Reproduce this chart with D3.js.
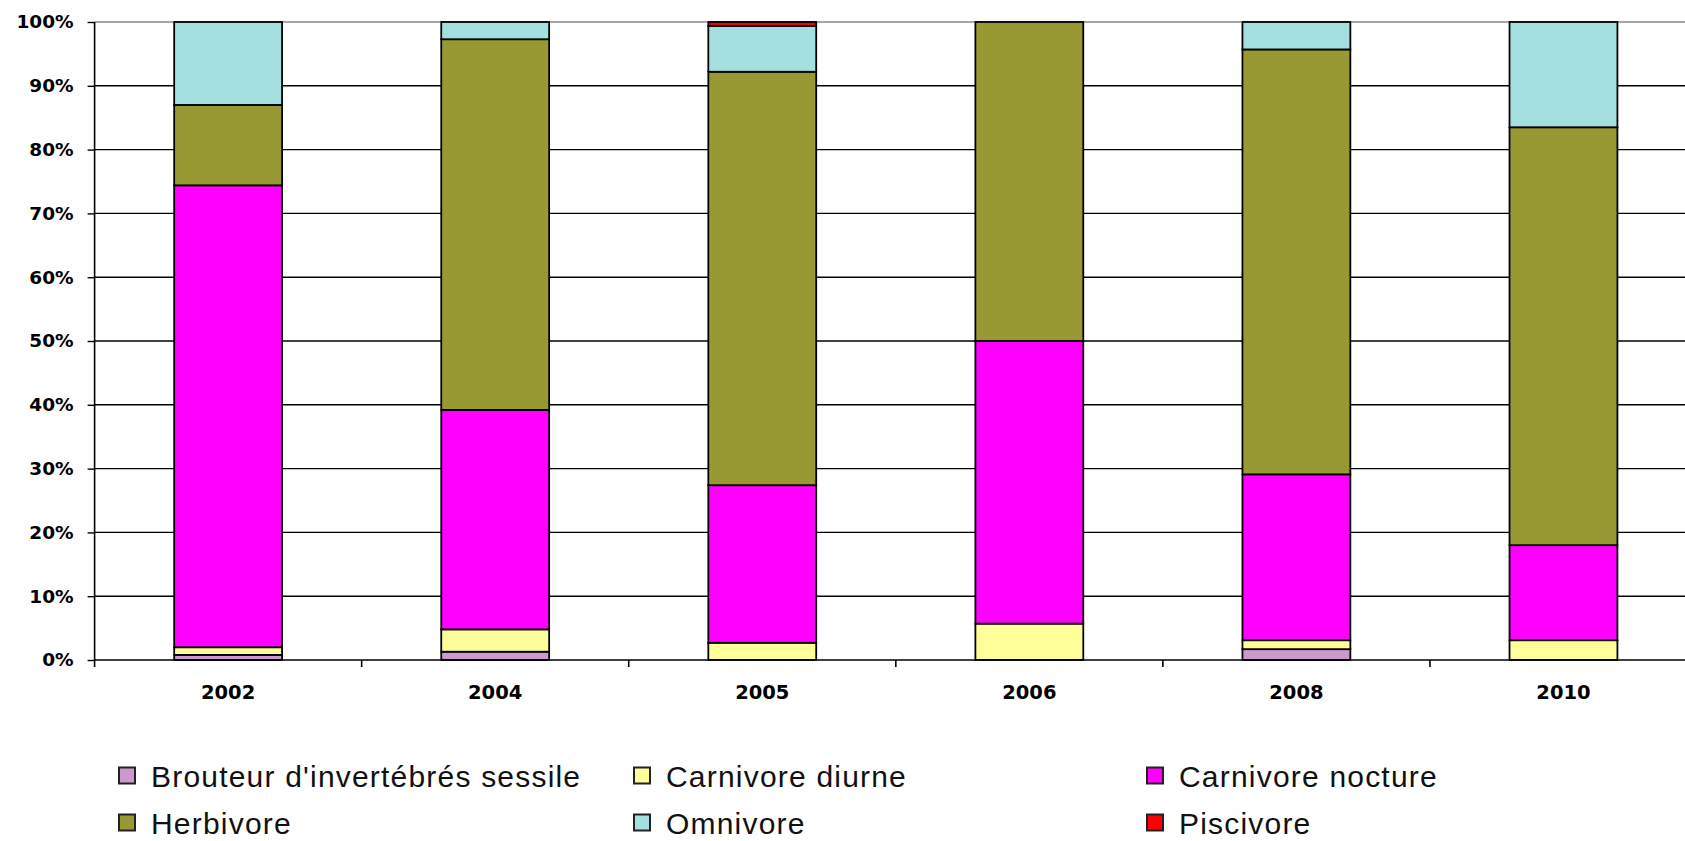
<!DOCTYPE html>
<html>
<head>
<meta charset="utf-8">
<script src="https://cdn.jsdelivr.net/npm/d3@7"></script>
<style>
html, body { margin: 0; padding: 0; background: #fff; overflow: hidden; }
svg { display: block; }
</style>
</head>
<body>
<svg id="chart" width="1685" height="841"></svg>
<script>
// ---- data (percentages) ----
const years = ["2002", "2004", "2005", "2006", "2008", "2010"];
const seriesNames = [
  "Brouteur d'invertébrés sessile",
  "Carnivore diurne",
  "Carnivore nocture",
  "Herbivore",
  "Omnivore",
  "Piscivore"
];
const brouteur  = [0.8, 1.3, 0.0, 0.0, 1.7, 0.0];
const diurne    = [1.2, 3.5, 2.7, 5.7, 1.4, 3.1];
const nocturne  = [72.4, 34.4, 24.7, 44.3, 26.0, 14.9];
const herbivore = [12.6, 58.1, 64.8, 50.0, 66.6, 65.5];
const omnivore  = [13.0, 2.7, 7.2, 0.0, 4.3, 16.5];
const piscivore = [0.0, 0.0, 0.6, 0.0, 0.0, 0.0];
const yTicks = [0, 0.1, 0.2, 0.3, 0.4, 0.5, 0.6, 0.7, 0.8, 0.9, 1.0];
const colors = ["#CC99CC", "#FFFF99", "#FF00FF", "#999933", "#A5E0E0", "#FF0000"];

(function () {
const seriesValues = [brouteur, diurne, nocturne, herbivore, omnivore, piscivore];
const table = years.map((yr, i) => {
  const row = { year: yr };
  seriesNames.forEach((s, j) => row[s] = seriesValues[j][i]);
  return row;
});

const svg = d3.select("#chart");
const pLeft = 94.6, pRight = 1697, pTop = 22, pBottom = 660;

const x = d3.scaleBand().domain(years).range([pLeft, pRight])
  .paddingInner(0.596).paddingOuter(0.298);
const y = d3.scaleLinear().domain([0, 1]).range([pBottom, pTop]);

// gridlines
svg.append("g").selectAll("line").data(yTicks.filter(t => t > 0)).join("line")
  .attr("x1", pLeft).attr("x2", 1685)
  .attr("y1", d => y(d)).attr("y2", d => y(d))
  .attr("stroke", d => d === 1 ? "#8a8a8a" : "#000")
  .attr("stroke-width", 1.4);

// stacked bars
const stack = d3.stack().keys(seriesNames).offset(d3.stackOffsetExpand);
const layers = stack(table);
svg.append("g").selectAll("g").data(layers).join("g")
  .attr("fill", (d, i) => colors[i])
  .selectAll("rect").data(d => d.filter(p => p[1] - p[0] > 0)).join("rect")
  .attr("x", d => x(d.data.year))
  .attr("width", x.bandwidth())
  .attr("y", d => y(d[1]))
  .attr("height", d => y(d[0]) - y(d[1]))
  .attr("stroke", "#000")
  .attr("stroke-width", 1.8);

// y axis
const yAxis = d3.axisLeft(y).tickValues(yTicks).tickFormat(d3.format(".0%")).tickSize(7).tickPadding(14);
const gy = svg.append("g").attr("transform", `translate(${pLeft},0)`).call(yAxis);
gy.select(".domain").remove();
gy.selectAll(".tick line").attr("stroke", "#000").attr("stroke-width", 1.4);
gy.selectAll(".tick text")
  .attr("font-family", "'DejaVu Sans', sans-serif")
  .attr("font-weight", "bold")
  .attr("font-size", "18.5px")
  .attr("fill", "#000");
svg.append("line").attr("x1", pLeft).attr("x2", pLeft).attr("y1", pTop).attr("y2", pBottom + 7)
  .attr("stroke", "#000").attr("stroke-width", 1.6);

// x axis
svg.append("line").attr("x1", pLeft).attr("x2", 1685).attr("y1", pBottom).attr("y2", pBottom)
  .attr("stroke", "#000").attr("stroke-width", 1.6);
const bounds = d3.range(1, years.length).map(i => pLeft + i * x.step());
svg.append("g").selectAll("line").data(bounds).join("line")
  .attr("x1", d => d).attr("x2", d => d)
  .attr("y1", pBottom).attr("y2", pBottom + 7)
  .attr("stroke", "#000").attr("stroke-width", 1.6);
svg.append("g").selectAll("text").data(years).join("text")
  .attr("x", d => x(d) + x.bandwidth() / 2)
  .attr("y", 699)
  .attr("text-anchor", "middle")
  .attr("font-family", "'DejaVu Sans', sans-serif")
  .attr("font-weight", "bold")
  .attr("font-size", "19.5px")
  .attr("fill", "#000")
  .text(d => d);

// legend
const legX = [119, 634, 1147];
const legY = [773, 820];
const leg = svg.append("g").selectAll("g").data(seriesNames).join("g")
  .attr("transform", (d, i) => `translate(${legX[i % 3]},${legY[Math.floor(i / 3)]})`);
leg.append("rect").attr("x", 0).attr("y", -5.5).attr("width", 16).attr("height", 16)
  .attr("fill", (d, i) => colors[i]).attr("stroke", "#222").attr("stroke-width", 2);
leg.append("text").attr("x", 32).attr("y", 13.5)
  .attr("font-family", "'Liberation Sans', Arial, sans-serif")
  .attr("font-size", "30px")
  .attr("letter-spacing", "1.2px")
  .attr("fill", "#111")
  .text(d => d);
})();
</script>
</body>
</html>
